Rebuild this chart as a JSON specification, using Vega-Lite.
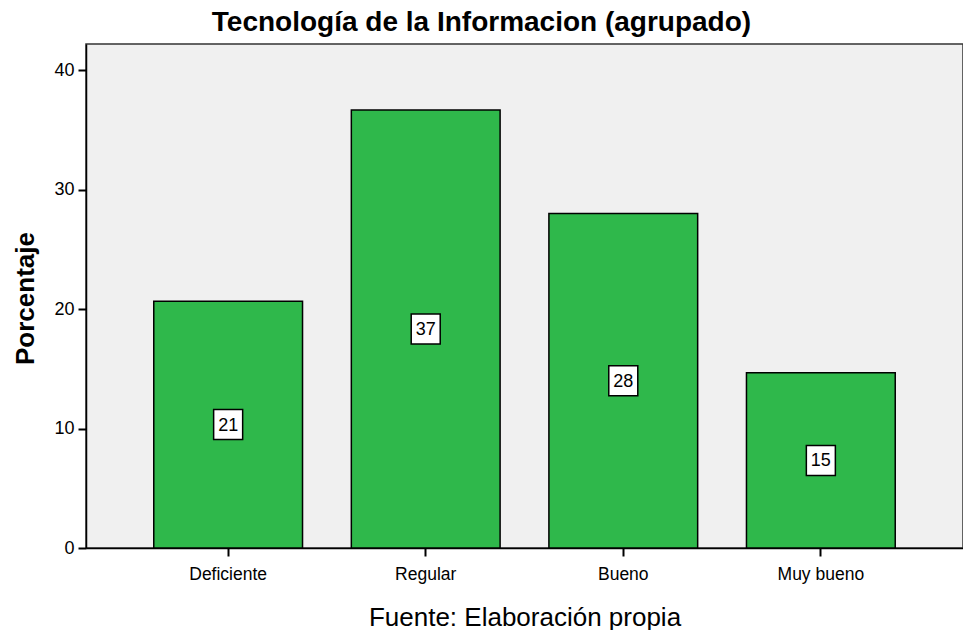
{
  "$schema": "https://vega.github.io/schema/vega-lite/v6.json",
  "width": 877,
  "height": 504,
  "autosize": {"type": "none"},
  "padding": {"left": 86, "top": 44, "right": 0, "bottom": 82},
  "background": "white",
  "config": {
    "font": "Liberation Sans",
    "view": {"fill": "#F0F0F0", "stroke": "#333333", "strokeWidth": 1.5}
  },
  "title": {
    "text": "Tecnología de la Informacion (agrupado)",
    "font": "Liberation Sans",
    "fontSize": 28,
    "fontWeight": "bold",
    "color": "black",
    "anchor": "middle",
    "frame": "group",
    "baseline": "alphabetic",
    "offset": 12,
    "dx": -43,
    "dy": 27
  },
  "data": {
    "values": [
      {"categoria": "Deficiente", "porcentaje": 20.67},
      {"categoria": "Regular", "porcentaje": 36.67},
      {"categoria": "Bueno", "porcentaje": 28.0},
      {"categoria": "Muy bueno", "porcentaje": 14.67}
    ]
  },
  "encoding": {
    "x": {
      "field": "categoria",
      "type": "nominal",
      "sort": ["Deficiente", "Regular", "Bueno", "Muy bueno"],
      "scale": {"paddingInner": 0.247, "paddingOuter": 0.343},
      "axis": {
        "title": "Fuente: Elaboración propia",
        "titleFont": "Liberation Sans",
        "titleFontSize": 26,
        "titleFontWeight": "normal",
        "titleColor": "black",
        "titleBaseline": "alphabetic",
        "titleY": 77,
        "labelAngle": 0,
        "labelFont": "Liberation Sans",
        "labelFontSize": 17.5,
        "labelColor": "black",
        "labelPadding": 9,
        "tickSize": 8,
        "tickWidth": 2,
        "tickColor": "black",
        "domainColor": "black",
        "domainWidth": 1.5
      }
    }
  },
  "layer": [
    {
      "mark": {"type": "bar", "fill": "#2fb84b", "stroke": "black", "strokeWidth": 1.5},
      "encoding": {
        "y": {
          "field": "porcentaje",
          "type": "quantitative",
          "scale": {"domain": [0, 42.2], "nice": false},
          "axis": {
            "title": "Porcentaje",
            "titleFont": "Liberation Sans",
            "titleFontSize": 26,
            "titleFontWeight": "bold",
            "titleColor": "black",
            "titleAngle": 270,
            "titleBaseline": "alphabetic",
            "titleAlign": "center",
            "titleX": -53,
            "titleY": 254,
            "values": [0, 10, 20, 30, 40],
            "labelFont": "Liberation Sans",
            "labelFontSize": 18,
            "labelColor": "black",
            "labelPadding": 4,
            "tickSize": 8,
            "tickWidth": 2,
            "tickColor": "black",
            "domainColor": "black",
            "domainWidth": 1.5,
            "grid": false
          }
        }
      }
    },
    {
      "mark": {
        "type": "point",
        "shape": "M-0.967,-1H0.967V1H-0.967Z",
        "size": 900,
        "filled": true,
        "fill": "white",
        "stroke": "black",
        "strokeWidth": 1.5,
        "opacity": 1
      },
      "encoding": {
        "y": {
          "field": "porcentaje",
          "type": "quantitative",
          "scale": {"domain": [0, 84.4], "nice": false},
          "axis": null
        }
      }
    },
    {
      "mark": {
        "type": "text",
        "font": "Liberation Sans",
        "fontSize": 18,
        "color": "black",
        "baseline": "middle",
        "align": "center",
        "dy": 1
      },
      "encoding": {
        "y": {
          "field": "porcentaje",
          "type": "quantitative",
          "scale": {"domain": [0, 84.4], "nice": false},
          "axis": null
        },
        "text": {"field": "porcentaje", "type": "quantitative", "format": ".0f"}
      }
    }
  ],
  "resolve": {"scale": {"y": "independent"}}
}
